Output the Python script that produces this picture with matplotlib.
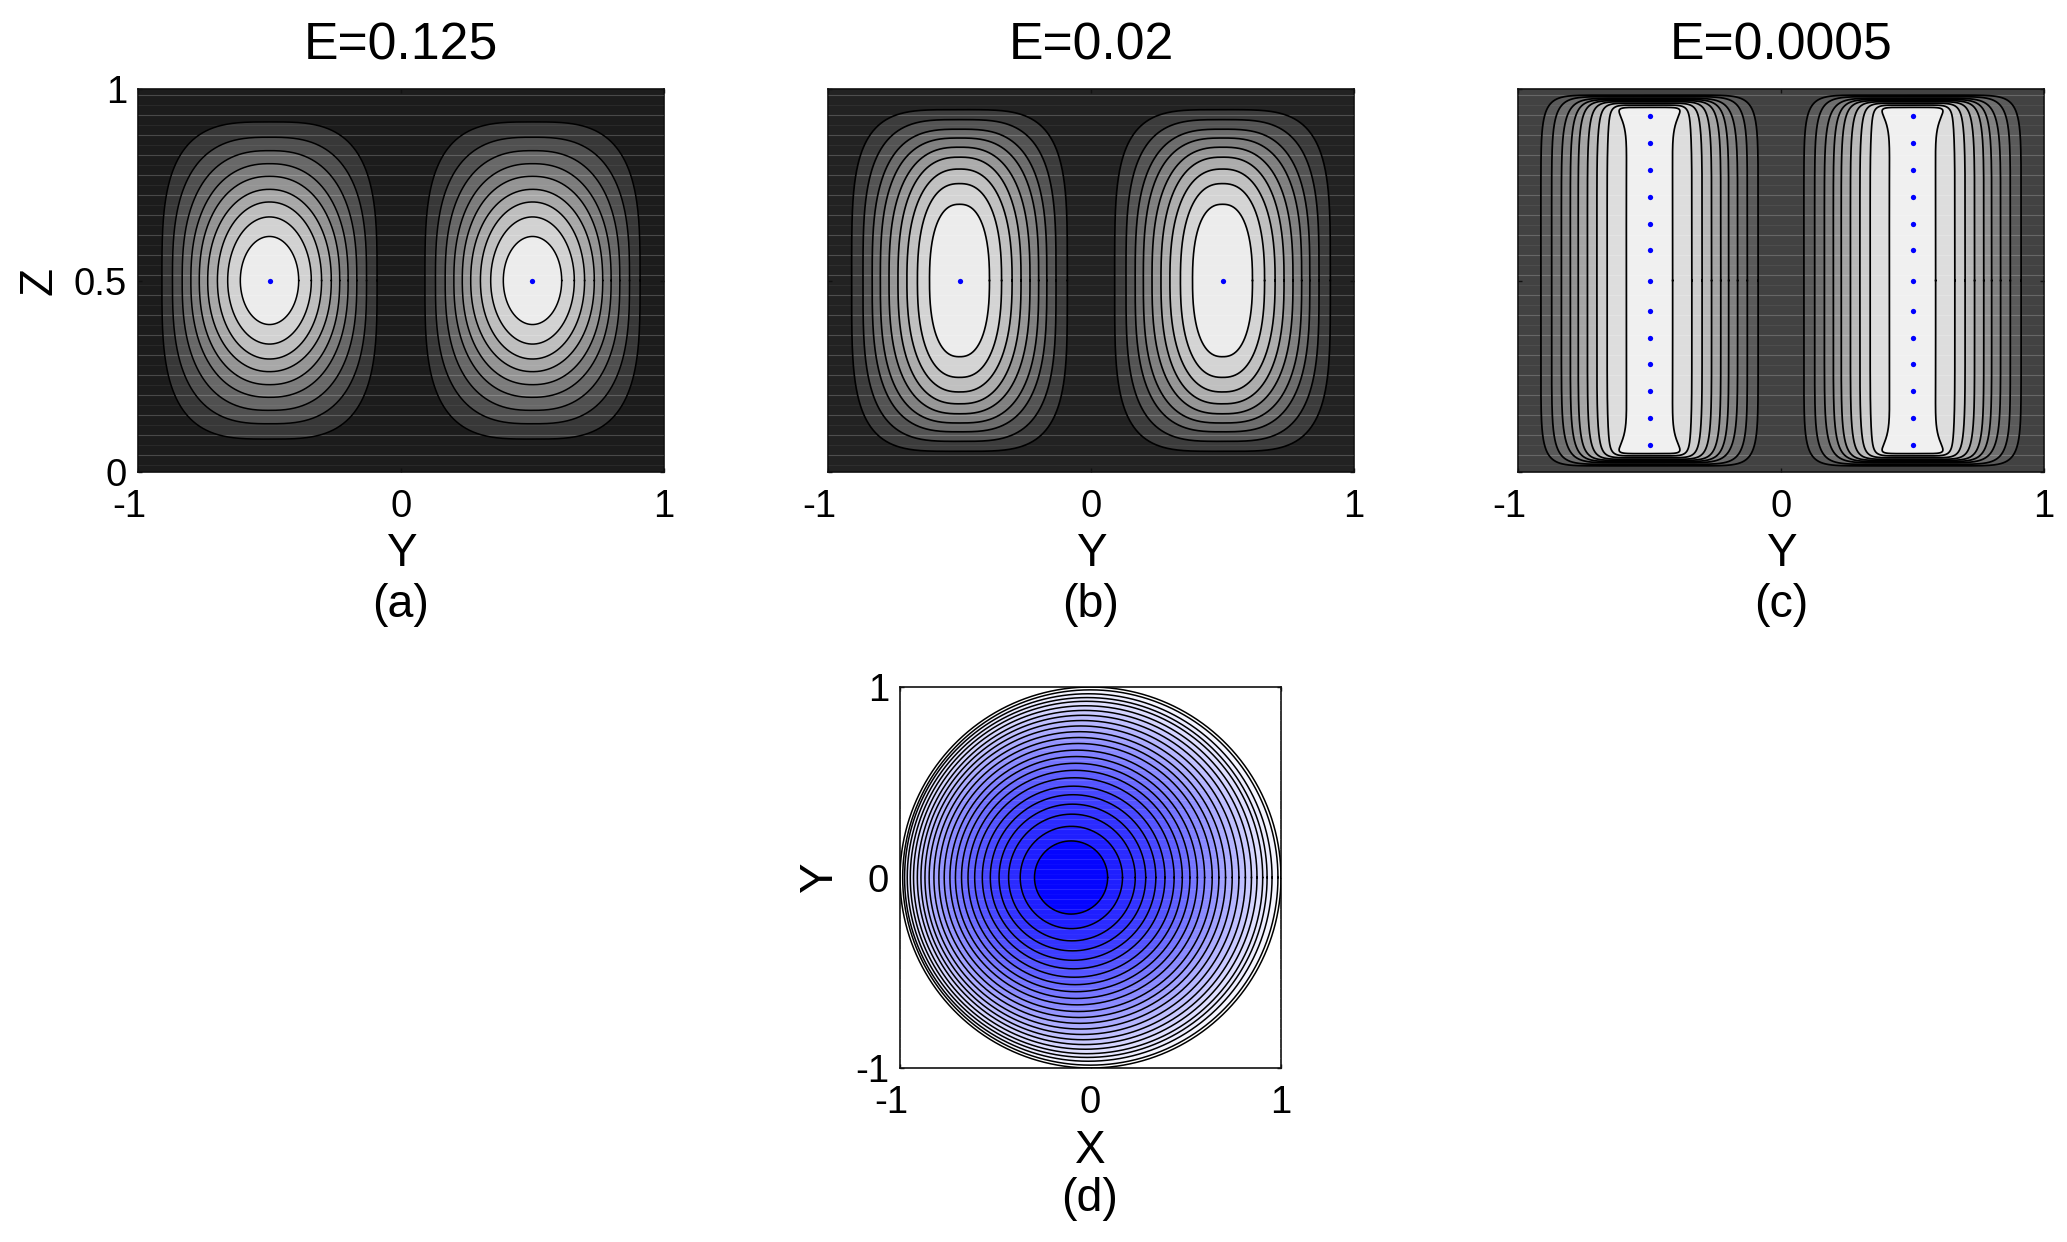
import numpy as np
import matplotlib
matplotlib.use('Agg')
import matplotlib.pyplot as plt
from matplotlib.transforms import ScaledTranslation

plt.rcParams['font.family'] = ['Liberation Sans', 'DejaVu Sans']

titles = ['E=0.125', 'E=0.02', 'E=0.0005']
panel_tags = ['(a)', '(b)', '(c)']
cell_centres = [-0.5, 0.5]

# contours, outermost first
a_width = [0.409, 0.369, 0.332, 0.299, 0.267, 0.235, 0.198, 0.159, 0.111]
a_height = [0.414, 0.374, 0.339, 0.305, 0.272, 0.238, 0.205, 0.166, 0.115]
a_square = [3.3, 2.8, 2.5, 2.3, 2.2, 2.1, 2.05, 2.0, 2.0]
a_grey = ['#1c1c1c', '#383838', '#505050', '#686868', '#7c7c7c', '#949494',
          '#a8a8a8', '#bebebe', '#d2d2d2', '#ececec']

b_width = [0.410, 0.367, 0.332, 0.301, 0.268, 0.234, 0.200, 0.160, 0.114]
b_height = [0.446, 0.420, 0.395, 0.372, 0.348, 0.322, 0.291, 0.253, 0.199]
b_square = [4.0, 3.4, 3.0, 2.8, 2.6, 2.5, 2.4, 2.4, 2.4]
b_grey = ['#222222', '#3c3c3c', '#545454', '#6c6c6c', '#808080', '#969696',
          '#acacac', '#c0c0c0', '#d4d4d4', '#ececec']

c_width = [0.413, 0.372, 0.335, 0.301, 0.271, 0.236, 0.200, 0.161, 0.088]
c_height = [0.484, 0.480, 0.476, 0.473, 0.470, 0.467, 0.463, 0.458, 0.452]
c_square = [10, 9, 8, 8, 8, 8, 8, 8, 7]
c_flare = [0.01, 0.015, 0.02, 0.03, 0.04, 0.05, 0.07, 0.12, 1.0]
c_grey = ['#424242', '#5a5a5a', '#6e6e6e', '#808080', '#929292', '#a4a4a4',
          '#b8b8b8', '#cccccc', '#dddddd', '#f0f0f0']

a_dots = [0.5]
b_dots = [0.5]
c_dots = [0.929, 0.860, 0.788, 0.719, 0.648, 0.579, 0.498, 0.421, 0.351, 0.281, 0.212, 0.140, 0.071]

# panel d: where each circle crosses Y=0 on either side, innermost first
d_left = [-0.294, -0.369, -0.430, -0.480, -0.526, -0.568, -0.608, -0.643, -0.677, -0.709, -0.738,
          -0.768, -0.796, -0.822, -0.847, -0.869, -0.890, -0.909, -0.929, -0.946, -0.962, -0.976, -0.986, -1.0]
d_right = [0.090, 0.168, 0.235, 0.290, 0.343, 0.391, 0.439, 0.482, 0.522, 0.561, 0.599,
           0.639, 0.674, 0.709, 0.744, 0.779, 0.813, 0.845, 0.874, 0.904, 0.927, 0.953, 0.984, 1.0]
d_white = [0.02, 0.12, 0.17, 0.20, 0.24, 0.28, 0.33, 0.37, 0.42, 0.46, 0.50, 0.54,
           0.58, 0.63, 0.67, 0.71, 0.75, 0.79, 0.83, 0.87, 0.90, 0.93, 0.96, 1.0]

W, H = 2067, 1242
fig = plt.figure(figsize=(W / 100, H / 100), dpi=100)


def add_ax(left, top, right, bottom):
    return fig.add_axes([left / W, 1 - bottom / H, (right - left) / W, (bottom - top) / H])


def outline(cx, cz, w, h, n, flare=0.0):
    t = np.linspace(0, 2 * np.pi, 721)
    x = np.sign(np.cos(t)) * np.abs(np.cos(t)) ** (2 / n)
    z = np.sign(np.sin(t)) * np.abs(np.sin(t)) ** (2 / n)
    x = x * (1 + flare * np.abs(z) ** 14)
    return cx + w * x, cz + h * z


def style_ticks(ax, xvals, yvals, ylabels, minus_shift=-9):
    ax.set_xticks(xvals, [str(v) for v in xvals])
    ax.set_yticks(yvals, ylabels)
    ax.tick_params(direction='in', length=3, width=1, top=True, right=True,
                   labelsize=27.5, color='#111111')
    ax.tick_params(axis='x', pad=12)
    ax.tick_params(axis='y', pad=8)
    for lab in ax.get_xticklabels():
        if lab.get_text().startswith('-'):
            lab.set_transform(lab.get_transform() + ScaledTranslation(minus_shift / 100, 0, fig.dpi_scale_trans))
    for s in ax.spines.values():
        s.set_linewidth(1.2)
        s.set_color('#111111')


def stripes(ax, lo, hi, strong, faint):
    ax.hlines(np.arange(hi - 0.0165, lo, -0.0522), -1, 1, color='white', lw=0.8, alpha=strong, zorder=3)
    ax.hlines(np.arange(hi - 0.0426, lo, -0.0522), -1, 1, color='white', lw=0.6, alpha=faint, zorder=3)


def cell_panel(ax, widths, heights, squares, greys, dots, line_w, flares=None):
    ax.set_facecolor(greys[0])
    if flares is None:
        flares = [0.0] * len(widths)
    for cy in cell_centres:
        for w, h, n, f, g in zip(widths, heights, squares, flares, greys[1:]):
            x, z = outline(cy, 0.5, w, h, n, f)
            ax.fill(x, z, color=g, lw=0, zorder=2)
            ax.plot(x, z, color='black', lw=line_w, zorder=4)
        ax.plot([cy] * len(dots), dots, 'o', color='#0000ff', ms=3.8, mew=0, zorder=5)
    stripes(ax, 0, 1, 0.2, 0.07)
    ax.set_xlim(-1, 1)
    ax.set_ylim(0, 1)


boxes = [(138, 89, 664, 472), (828, 89, 1354, 472), (1518, 89, 2044, 472)]
contours = [(a_width, a_height, a_square, a_grey, a_dots, 1.1, None),
            (b_width, b_height, b_square, b_grey, b_dots, 1.2, None),
            (c_width, c_height, c_square, c_grey, c_dots, 1.25, c_flare)]

for i, (box, cdata) in enumerate(zip(boxes, contours)):
    ax = add_ax(*box)
    cell_panel(ax, *cdata)
    if i == 0:
        style_ticks(ax, [-1, 0, 1], [0, 0.5, 1], ['0', '0.5', '1'])
        ax.set_ylabel('Z', fontsize=33, labelpad=9)
    else:
        style_ticks(ax, [-1, 0, 1], [0, 0.5, 1], ['', '', ''])
    ax.set_xlabel('Y', fontsize=33, labelpad=5)
    ax.set_title(titles[i], fontsize=37.3, pad=21)
    mid = (box[0] + box[2]) / 2
    fig.text(mid / W, 1 - 605 / H, panel_tags[i], fontsize=33.5, ha='center', va='center')

# panel d
ax = add_ax(900, 687, 1281, 1068)
for k in range(len(d_left) - 1, -1, -1):
    cx = (d_left[k] + d_right[k]) / 2
    r = (d_right[k] - d_left[k]) / 2
    x, y = outline(cx, 0, r, r, 2)
    g = d_white[k]
    ax.fill(x, y, color=(g, g, 1.0), lw=0, zorder=2)
    ax.plot(x, y, color='black', lw=1.1, zorder=4)
stripes(ax, -1, 1, 0.12, 0.04)
ax.set_xlim(-1, 1)
ax.set_ylim(-1, 1)
style_ticks(ax, [-1, 0, 1], [-1, 0, 1], ['-1', '0', '1'])
ax.set_xlabel('X', fontsize=33, labelpad=6)
ax.set_ylabel('Y', fontsize=33, labelpad=9)
fig.text(1090 / W, 1 - 1199 / H, '(d)', fontsize=33.5, ha='center', va='center')

fig.savefig('out.png', dpi=100)
